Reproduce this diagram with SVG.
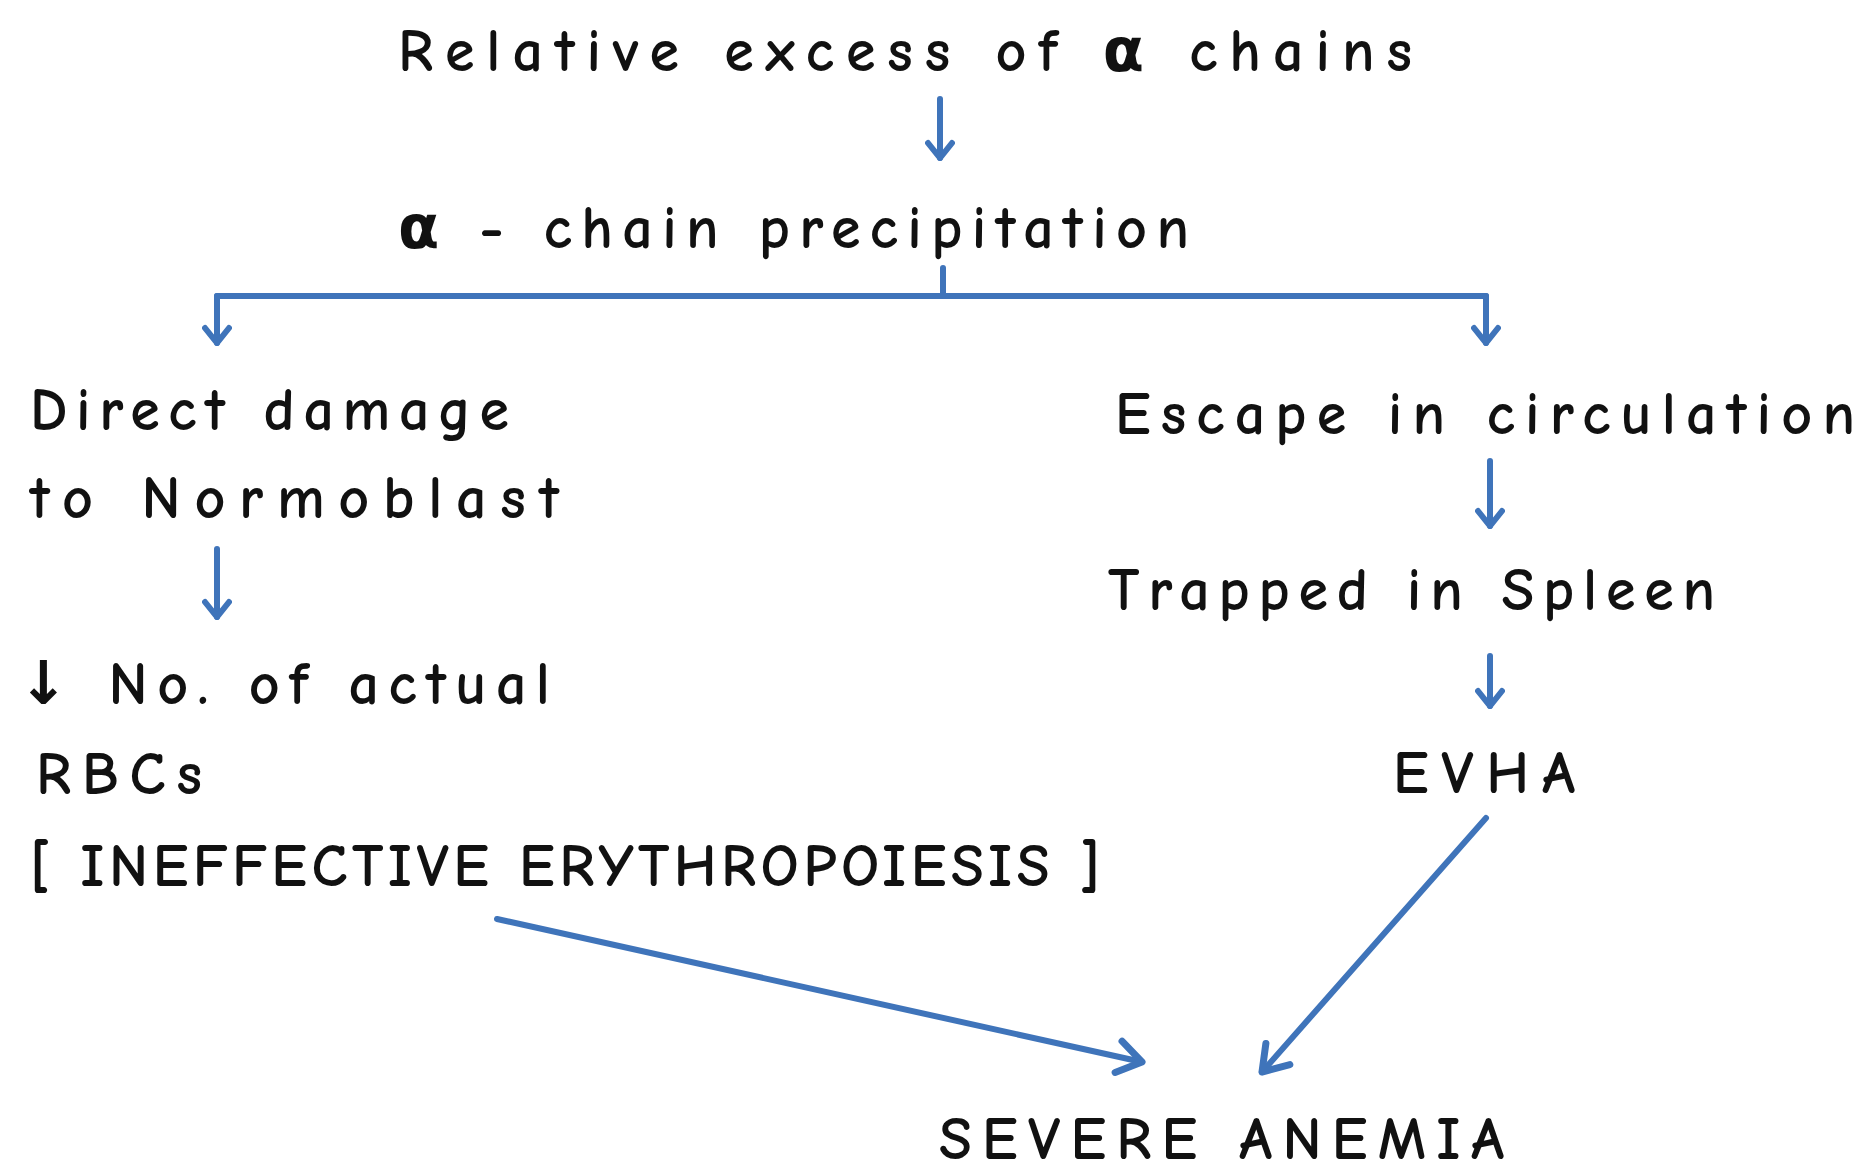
<svg xmlns="http://www.w3.org/2000/svg" width="1864" height="1172" viewBox="0 0 1864 1172">
<defs>
<style>
.t{font-family:"Comic Neue","DejaVu Sans","Liberation Sans",sans-serif;font-size:60px;font-weight:bold;fill:#111;}
.c{fill:none;stroke:#3f74ba;stroke-width:6;stroke-linecap:round;stroke-linejoin:round;}
</style>
<marker id="ah" viewBox="-19 -15 22 30" markerWidth="22" markerHeight="30" refX="0" refY="0" orient="auto" markerUnits="userSpaceOnUse">
<path d="M-15,-12 L0,0 L-15,12" fill="none" stroke="#3f74ba" stroke-width="6" stroke-linecap="round" stroke-linejoin="round"/>
</marker>
<marker id="ahL" viewBox="-28 -20 32 40" markerWidth="32" markerHeight="40" refX="0" refY="0" orient="auto" markerUnits="userSpaceOnUse">
<path d="M-24,-16 L0,0 L-24,16" fill="none" stroke="#3f74ba" stroke-width="7" stroke-linecap="round" stroke-linejoin="round"/>
</marker>
</defs>
<rect width="1864" height="1172" fill="#fff"/>
<g id="connectors">
<line class="c" x1="940" y1="99" x2="940" y2="158" marker-end="url(#ah)"/>
<line class="c" x1="943" y1="268" x2="943" y2="296"/>
<line class="c" x1="217" y1="296" x2="1486" y2="296"/>
<line class="c" x1="217" y1="296" x2="217" y2="343" marker-end="url(#ah)"/>
<line class="c" x1="1486" y1="296" x2="1486" y2="343" marker-end="url(#ah)"/>
<line class="c" x1="217" y1="549" x2="217" y2="617" marker-end="url(#ah)"/>
<line class="c" x1="1490" y1="461" x2="1490" y2="526" marker-end="url(#ah)"/>
<line class="c" x1="1490" y1="656" x2="1490" y2="706" marker-end="url(#ah)"/>
<line class="c" x1="497" y1="919" x2="1142" y2="1062" marker-end="url(#ahL)"/>
<line class="c" x1="1486" y1="818" x2="1262" y2="1072" marker-end="url(#ahL)"/>
</g>
<g id="n1"><text class="t" x="398" y="71" textLength="1014" lengthAdjust="spacing">Relative excess of α chains</text></g>
<g id="n2"><text class="t" x="398" y="248" textLength="791" lengthAdjust="spacing">α - chain precipitation</text></g>
<g id="n3"><text class="t" x="30" y="430" textLength="479" lengthAdjust="spacing">Direct damage</text><text class="t" x="30" y="518" textLength="529" lengthAdjust="spacing">to Normoblast</text></g>
<g id="n4"><text class="t" x="18" y="704" textLength="532" lengthAdjust="spacing">↓ No. of actual</text><text class="t" x="36" y="794" textLength="166" lengthAdjust="spacing">RBCs</text><text class="t" x="30" y="886" textLength="1070" lengthAdjust="spacing">[ INEFFECTIVE ERYTHROPOIESIS ]</text></g>
<g id="n5"><text class="t" x="1115" y="434" textLength="740" lengthAdjust="spacing">Escape in circulation</text></g>
<g id="n6"><text class="t" x="1108" y="610" textLength="607" lengthAdjust="spacing">Trapped in Spleen</text></g>
<g id="n7"><text class="t" x="1393" y="793" textLength="182" lengthAdjust="spacing">EVHA</text></g>
<g id="n8"><text class="t" x="939" y="1159" textLength="565" lengthAdjust="spacing">SEVERE ANEMIA</text></g>
</svg>
